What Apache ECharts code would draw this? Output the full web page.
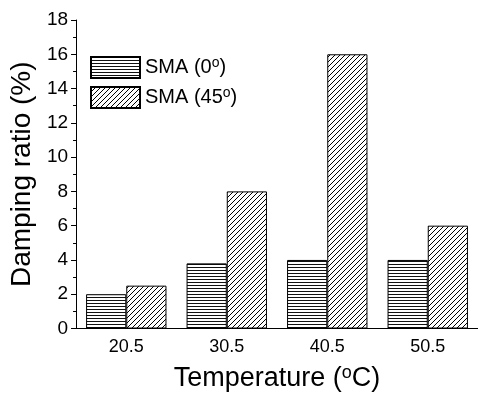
<!DOCTYPE html>
<html><head><meta charset="utf-8">
<script src="https://cdn.jsdelivr.net/npm/echarts@6/dist/echarts.min.js"></script>
<style>html,body{margin:0;padding:0;background:#fff}#c{width:478px;height:397px}</style>
</head><body><div id="c"></div>
<script>
var categories = ['20.5', '30.5', '40.5', '50.5'];
var sma0 = [2, 3.8, 4, 4];
var sma45 = [2.5, 8, 16, 6];
var seriesNames = ['SMA (0{sup|o})', 'SMA (45{sup|o})'];
var yTicks = { min: 0, max: 18, interval: 2 };

function hPattern() {
  var c = document.createElement('canvas'); c.width = 4; c.height = 3;
  var g = c.getContext('2d'); g.fillStyle = '#fff'; g.fillRect(0, 0, 4, 3);
  g.fillStyle = '#111'; g.fillRect(0, 0, 4, 1);
  return c;
}
function dPattern() {
  var s = 5;
  var c = document.createElement('canvas'); c.width = s; c.height = s;
  var g = c.getContext('2d'); g.fillStyle = '#fff'; g.fillRect(0, 0, s, s);
  g.strokeStyle = '#000'; g.lineWidth = 1;
  g.beginPath();
  g.moveTo(-1, s + 1); g.lineTo(s + 1, -1);
  g.moveTo(-1, 1); g.lineTo(1, -1);
  g.moveTo(s - 1, s + 1); g.lineTo(s + 1, s - 1);
  g.stroke();
  return c;
}
var FONT = '"Liberation Sans", Arial, sans-serif';
var chart = echarts.init(document.getElementById('c'), null, { renderer: 'canvas' });
chart.setOption({
  animation: false,
  backgroundColor: '#fff',
  grid: { left: 76, top: 20, width: 406, height: 312 },
  legend: {
    orient: 'vertical', left: 90, top: 56, itemWidth: 49, itemHeight: 21, itemGap: 7,
    padding: 0, icon: 'rect',
    textStyle: { fontSize: 20, fontFamily: FONT, color: '#000',
      rich: { sup: { fontSize: 14, verticalAlign: 'top', padding: [0, 0, 8, 0], fontFamily: FONT, color: '#000' } } }
  },
  xAxis: [{
    type: 'category', data: categories,
    axisLine: { lineStyle: { color: '#000', width: 1 } },
    axisTick: { alignWithLabel: true, length: 5, lineStyle: { color: '#000' } },
    axisLabel: { fontSize: 18, fontFamily: FONT, color: '#000', margin: 10 },
    name: 'Temperature ({sup|o}C)',
    nameLocation: 'middle', nameGap: 36,
    nameTextStyle: { fontSize: 27, fontFamily: FONT, color: '#000',
      rich: { sup: { fontSize: 18, verticalAlign: 'top', padding: [0, 0, 10, 0], fontFamily: FONT, color: '#000' } } }
  }, {
    type: 'category', data: categories, position: 'bottom',
    axisLine: { show: false },
    axisTick: { alignWithLabel: false, length: 3, lineStyle: { color: '#000' } },
    axisLabel: { show: false }
  }],
  yAxis: {
    type: 'value', min: yTicks.min, max: yTicks.max, interval: yTicks.interval,
    axisLine: { show: true, lineStyle: { color: '#000', width: 1 } },
    axisTick: { show: true, length: 5, lineStyle: { color: '#000' } },
    minorTick: { show: true, splitNumber: 2, length: 3, lineStyle: { color: '#000' } },
    splitLine: { show: false },
    axisLabel: { fontSize: 19, fontFamily: FONT, color: '#000', margin: 8 },
    name: 'Damping ratio (%)', nameLocation: 'middle', nameGap: 40,
    nameTextStyle: { fontSize: 28, fontFamily: FONT, color: '#000' }
  },
  series: [{
    name: seriesNames[0], type: 'bar', data: sma0, barGap: '0%', barCategoryGap: '20%',
    itemStyle: { color: { image: hPattern(), repeat: 'repeat' }, borderColor: '#000', borderWidth: 1 }
  }, {
    name: seriesNames[1], type: 'bar', data: sma45, barGap: '0%', barCategoryGap: '20%',
    itemStyle: { color: { image: dPattern(), repeat: 'repeat' }, borderColor: '#000', borderWidth: 1 }
  }]
});
</script></body></html>
